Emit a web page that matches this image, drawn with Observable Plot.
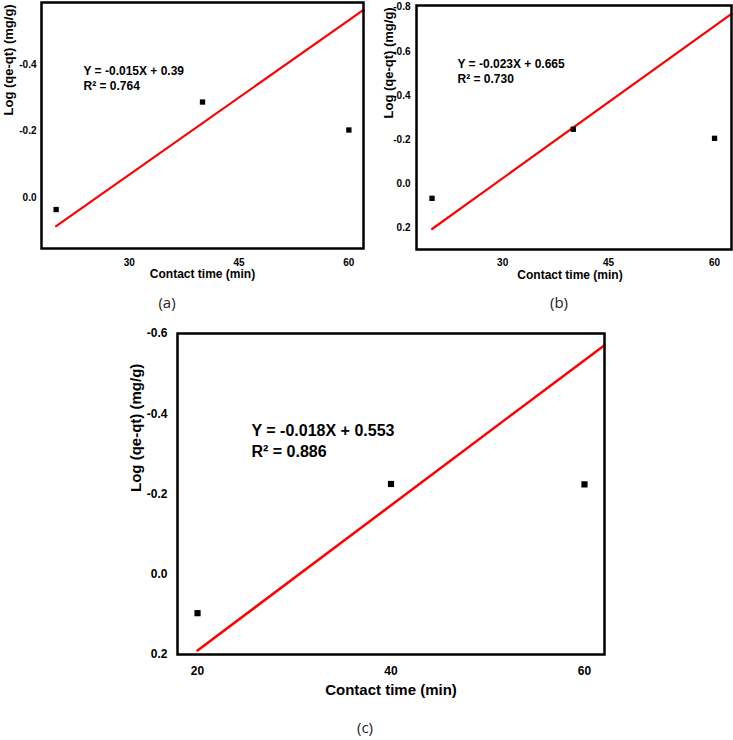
<!DOCTYPE html>
<html>
<head>
<meta charset="utf-8">
<script src="https://cdn.jsdelivr.net/npm/d3@7"></script>
<script src="https://cdn.jsdelivr.net/npm/@observablehq/plot@0.6"></script>
<style>
  html, body { margin: 0; padding: 0; background: #fff; }
  #root { position: relative; width: 733px; height: 740px; overflow: hidden; }
  .panel { position: absolute; }
  .cap { position: absolute; font-family: "Open Sans", "Noto Sans", sans-serif; font-size: 15px; line-height: 18px; color: #222; transform: translate(-50%, -50%); }
</style>
</head>
<body>
<div id="root"></div>
<script>
// ---- data ----
const time = [20, 40, 60];
const logA = [0.036, -0.287, -0.203];
const logB = [0.066, -0.247, -0.206];
const logC = [0.097, -0.225, -0.224];

// fitted line endpoints (as drawn)
const fitTimeA = [20, 62];
const fitA = [0.086, -0.564];
const fitTimeB = [20, 62.4];
const fitB = [0.205, -0.77];
const fitTimeC = [20, 62.07];
const fitC = [0.19, -0.571];

// ticks
const xTicksAB = [30, 45, 60];
const xTicksC = [20, 40, 60];
const yTicksA = [-0.4, -0.2, 0.0];
const yTicksB = [-0.8, -0.6, -0.4, -0.2, 0.0, 0.2];
const yTicksC = [-0.6, -0.4, -0.2, 0.0, 0.2];

// texts
const xLabel = "Contact time (min)";
const yLabel = "Log (qe-qt) (mg/g)";
const eqA = ["Y = -0.015X + 0.39", "R\u00B2 = 0.764"];
const eqB = ["Y = -0.023X + 0.665", "R\u00B2 = 0.730"];
const eqC = ["Y = -0.018X + 0.553", "R\u00B2 = 0.886"];
const captions = ["(a)", "(b)", "(c)"];

const root = document.getElementById("root");

function panel(o) {
  const pts = o.x.map((t, i) => ({t, v: o.y[i]}));
  const fit = o.fx.map((t, i) => ({t, v: o.fy[i]}));
  const chart = Plot.plot({
    width: o.width, height: o.height,
    marginLeft: o.ml, marginRight: o.mr, marginTop: o.mt, marginBottom: o.mb,
    x: {domain: o.xDomain},
    y: {domain: o.yDomain},
    style: {fontFamily: "'Liberation Sans', Arial, sans-serif", color: "black", background: "transparent", overflow: "visible"},
    marks: [
      Plot.axisX({ticks: o.xTicks, tickSize: 0, tickPadding: o.xPad, tickFormat: d => String(d), fontSize: o.tickFs, fontWeight: "bold", label: null}),
      Plot.axisY({ticks: o.yTicks, tickSize: 0, tickPadding: o.yPad, tickFormat: d => d.toFixed(1), fontSize: o.tickFs, fontWeight: "bold", label: null}),
      Plot.line(fit, {x: "t", y: "v", stroke: "#ff0000", strokeWidth: o.lw}),
      Plot.dot(pts, {x: "t", y: "v", symbol: "square", fill: "black", r: o.r}),
      Plot.frame({stroke: "black", strokeWidth: o.fw}),
      Plot.text([xLabel], {text: d => d, frameAnchor: "bottom", dx: o.xlDx, dy: o.xlDy, fontSize: o.xlFs, fontWeight: "bold", lineAnchor: "bottom"}),
      Plot.text([yLabel], {text: d => d, frameAnchor: "left", rotate: -90, dx: o.ylDx, dy: o.ylDy, fontSize: o.ylFs, fontWeight: "bold"}),
      Plot.text([o.eq.join("\n")], {text: d => d, frameAnchor: "top-left", textAnchor: "start", lineAnchor: "top", dx: o.eqDx, dy: o.eqDy, fontSize: o.eqFs, fontWeight: "bold", lineHeight: o.eqLh})
    ]
  });
  chart.classList.add("panel");
  chart.style.left = o.left + "px";
  chart.style.top = o.top + "px";
  root.appendChild(chart);
}

panel({
  left: 0, top: 0, width: 366, height: 292,
  ml: 41, mr: 3, mt: 2, mb: 44,
  xDomain: [18, 62], yDomain: [0.153, -0.586],
  x: time, y: logA, fx: fitTimeA, fy: fitA,
  xTicks: xTicksAB, yTicks: yTicksA, xPad: 10, yPad: 5, tickFs: 10,
  lw: 2.2, r: 3, fw: 2.5,
  xlDx: 0, xlDy: 29, xlFs: 12,
  ylDx: -33, ylDy: -10, ylFs: 13,
  eq: eqA, eqDx: 42, eqDy: 61, eqFs: 12, eqLh: 1.3
});

panel({
  left: 365, top: 0, width: 368, height: 292,
  ml: 51, mr: 2, mt: 5, mb: 43,
  xDomain: [17.8, 62.4], yDomain: [0.298, -0.808],
  x: time, y: logB, fx: fitTimeB, fy: fitB,
  xTicks: xTicksAB, yTicks: yTicksB, xPad: 9, yPad: 6, tickFs: 10,
  lw: 2.2, r: 3, fw: 2.5,
  xlDx: -4, xlDy: 29, xlFs: 12,
  ylDx: -28, ylDy: -9, ylFs: 13,
  eq: eqB, eqDx: 41, eqDy: 52, eqFs: 12, eqLh: 1.25
});

panel({
  left: 120, top: 320, width: 500, height: 390,
  ml: 57, mr: 16, mt: 13, mb: 56,
  xDomain: [17.93, 62.07], yDomain: [0.2, -0.6],
  x: time, y: logC, fx: fitTimeC, fy: fitC,
  xTicks: xTicksC, yTicks: yTicksC, xPad: 12, yPad: 10, tickFs: 12,
  lw: 2.5, r: 3.5, fw: 2.5,
  xlDx: 0, xlDy: 40, xlFs: 15,
  ylDx: -41, ylDy: -2, ylFs: 15,
  eq: eqC, eqDx: 74, eqDy: 87, eqFs: 16, eqLh: 1.35
});

const capPos = [[167, 302], [559, 302], [365, 727]];
captions.forEach((c, i) => {
  const d = document.createElement("div");
  d.className = "cap";
  d.textContent = c;
  d.style.left = capPos[i][0] + "px";
  d.style.top = capPos[i][1] + "px";
  root.appendChild(d);
});
</script>
</body>
</html>
